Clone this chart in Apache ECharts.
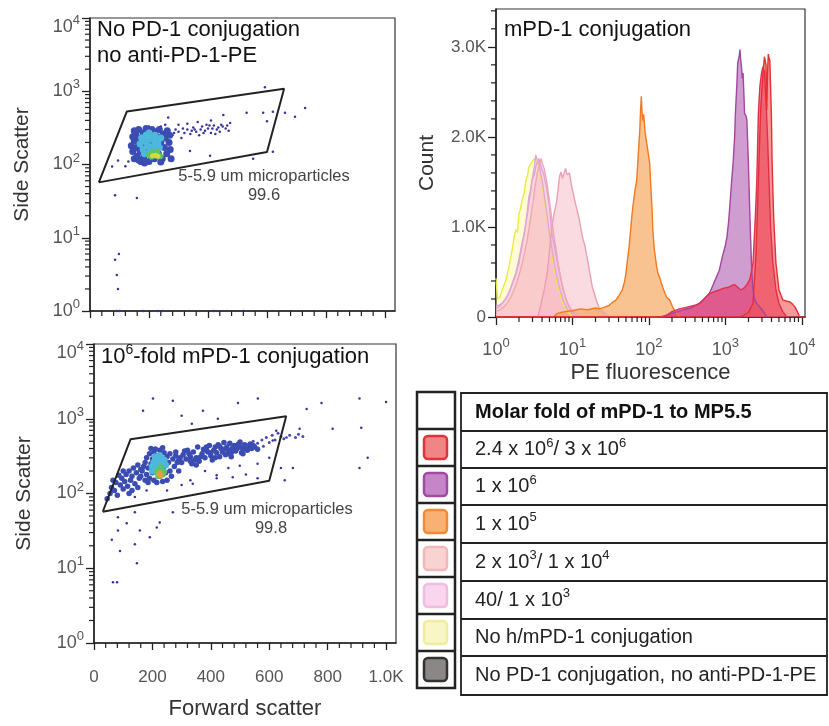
<!DOCTYPE html>
<html>
<head>
<meta charset="utf-8">
<script src="https://cdn.jsdelivr.net/npm/echarts@6/dist/echarts.min.js"></script>
<style>
  html, body { margin: 0; padding: 0; background: #fff; }
  #chart { width: 829px; height: 726px; }
</style>
</head>
<body>
<div id="chart"></div>
<script>
const FONT = '"Liberation Sans", Arial, sans-serif'

// ---- ticks ----
const fscTicks = [0, 200, 400, 600, 800, 1000]
const fscMinor = [40, 80, 120, 160, 240, 280, 320, 360, 440, 480, 520, 560, 640, 680, 720, 760, 840, 880, 920, 960]
const decadeTicks = [0, 1, 2, 3, 4]
const countTicks = [0, 1000, 2000, 3000]
const countMinor = [200, 400, 600, 800, 1200, 1400, 1600, 1800, 2200, 2400, 2600, 2800, 3200, 3400]
const logMinor = []
for (let n = 0; n < 4; n++) {
  for (let k = 2; k <= 9; k++) logMinor.push(n + Math.log10(k))
}

// ---- gate (forward scatter, side scatter) ----
const gate = [[30, 57], [125, 530], [658, 1080], [600, 148], [30, 57]]

// ---- panel A: no PD-1 conjugation (forward scatter, side scatter) ----
const aSparse = [[265, 437], [280, 250], [290, 300], [300, 280], [310, 230], [320, 270], [330, 300], [340, 260],
  [350, 320], [355, 300], [360, 280], [370, 250], [380, 330], [390, 290], [395, 350], [400, 310], [410, 270],
  [420, 340], [425, 260], [430, 300], [440, 280], [445, 350], [450, 330], [460, 310], [470, 290], [475, 370],
  [300, 350], [330, 360], [365, 380], [410, 400], [452, 475], [531, 510], [587, 510], [600, 390], [620, 525],
  [661, 510], [695, 450], [729, 590], [593, 1130], [339, 153], [407, 132], [553, 120], [620, 149], [75, 94],
  [95, 113], [85, 38], [159, 35], [85, 5], [98, 6], [91, 3.1], [95, 2], [90, 1], [100, 1], [180, 1], [230, 1],
  [245, 1], [420, 1], [520, 1], [200, 330], [130, 110], [120, 95], [255, 350], [240, 330], [285, 270],
  [315, 310], [345, 290], [375, 300], [405, 340], [435, 320], [465, 340], [385, 270], [415, 310]]
const aBlue = [[140, 180], [145, 150], [150, 210], [150, 120], [155, 260], [158, 170], [160, 130], [165, 230],
  [165, 300], [170, 150], [172, 110], [175, 200], [180, 270], [182, 125], [185, 170], [190, 310], [190, 230],
  [195, 140], [198, 190], [200, 110], [205, 260], [208, 160], [210, 300], [215, 210], [218, 120], [220, 280],
  [225, 180], [228, 240], [232, 140], [235, 300], [240, 200], [245, 120], [248, 260], [252, 170], [255, 230],
  [260, 140], [262, 290], [268, 200], [272, 160], [145, 240], [150, 290], [165, 115], [185, 105], [240, 108],
  [270, 250], [275, 120]]
const aCyan = [[170, 190], [175, 230], [180, 160], [185, 210], [190, 250], [195, 180], [200, 220], [205, 150],
  [210, 240], [215, 180], [220, 210], [225, 155], [230, 200], [235, 170], [240, 230], [200, 270], [220, 250], [185, 140]]
const aGreen = [[200, 135], [208, 128], [215, 140], [222, 132], [230, 138], [238, 130], [212, 148], [226, 150]]
const aYellow = [[212, 132], [222, 134], [230, 130]]

// ---- panel B: 10^6-fold mPD-1 conjugation ----
const bSparse = [[202, 1860], [270, 1740], [373, 1280], [335, 860], [300, 1100], [168, 1280], [424, 1000],
  [493, 1620], [561, 1860], [728, 1350], [779, 1620], [909, 1860], [1000, 1680], [817, 735], [915, 760],
  [937, 300], [909, 220], [704, 735], [681, 220], [653, 150], [499, 235], [420, 175], [475, 165], [338, 135],
  [624, 690], [612, 510], [659, 560], [82, 48], [112, 40], [82, 32], [140, 56], [61, 24], [89, 17], [140, 21],
  [191, 26], [225, 41], [157, 32], [65, 6.5], [79, 6.5], [147, 11.7], [270, 56], [215, 35], [330, 150],
  [380, 200], [420, 160], [460, 220], [520, 180], [560, 250], [600, 300], [250, 110], [300, 130], [180, 110],
  [140, 90], [560, 160], [640, 220]]
const bBlue = [[165, 200], [170, 230], [175, 260], [180, 180], [180, 300], [185, 220], [190, 160], [190, 340],
  [195, 250], [200, 190], [200, 290], [205, 150], [205, 360], [210, 230], [215, 320], [215, 140], [220, 270],
  [225, 380], [225, 170], [230, 300], [235, 145], [240, 350], [240, 230], [245, 190], [250, 310], [250, 150],
  [255, 260], [260, 340], [260, 200], [265, 170], [270, 290], [275, 230], [280, 320], [285, 260], [290, 200],
  [295, 300], [185, 140], [175, 150], [160, 170], [195, 400], [235, 410], [210, 395],
  [45, 85], [55, 100], [60, 120], [70, 110], [75, 140], [80, 95], [90, 130], [95, 160], [100, 115], [105, 145],
  [110, 180], [115, 125], [120, 200], [125, 150], [130, 170], [135, 220], [140, 135], [145, 190], [150, 240],
  [155, 160], [160, 210], [130, 110], [85, 175], [100, 200], [65, 150], [150, 120], [120, 100],
  [300, 260], [305, 330], [315, 290], [320, 380], [330, 310], [335, 250], [340, 360], [350, 300], [355, 420],
  [360, 270], [370, 340], [375, 390], [380, 300], [390, 360], [395, 440], [400, 320], [405, 280], [410, 380],
  [420, 350], [425, 450], [430, 310], [435, 400], [440, 360], [450, 330], [455, 420], [460, 380], [465, 470],
  [470, 350], [475, 410], [480, 440], [485, 370], [490, 400], [495, 460], [500, 420], [505, 350], [510, 390],
  [515, 450], [520, 410], [525, 380], [530, 430], [540, 400], [550, 420], [560, 390], [445, 480], [385, 420],
  [350, 240], [310, 370], [415, 300], [470, 310], [535, 460], [500, 490], [460, 340], [430, 430], [545, 440],
  [510, 340], [325, 340], [345, 280], [365, 310], [385, 380], [400, 350], [415, 420], [445, 390], [470, 380],
  [490, 430], [520, 440], [330, 270], [290, 280], [280, 360]]
const bEdge = [[590, 560], [610, 600], [620, 520], [630, 640], [640, 580], [650, 540], [670, 600], [690, 560],
  [700, 620], [715, 580], [600, 480], [575, 520], [560, 470], [580, 430], [545, 500]]
const bCyan = [[200, 230], [205, 260], [210, 280], [215, 250], [220, 300], [225, 230], [230, 270], [235, 250],
  [210, 310], [225, 320], [240, 280], [215, 220], [245, 240], [200, 200], [230, 210]]
const bGreen = [[215, 190], [220, 210], [225, 185], [230, 200], [235, 180], [240, 195], [220, 170], [228, 225]]
const bYellow = [[222, 178], [230, 172], [226, 190]]

// ---- histograms: [log10 PE fluorescence, count] ----
const peNone = [[0.0, 430], [0.02, 200], [0.05, 220], [0.08, 300], [0.13, 410], [0.17, 560], [0.21, 740],
  [0.24, 900], [0.26, 970], [0.28, 940], [0.30, 1150], [0.32, 1200], [0.34, 1300], [0.37, 1380], [0.39, 1520],
  [0.41, 1560], [0.43, 1670], [0.45, 1650], [0.47, 1720], [0.50, 1760], [0.55, 1700], [0.60, 1500],
  [0.65, 1200], [0.70, 900], [0.75, 600], [0.80, 380], [0.85, 220], [0.90, 110], [0.95, 50], [1.0, 0]]
const pe40 = [[0.0, 120], [0.04, 130], [0.08, 155], [0.13, 200], [0.17, 270], [0.21, 370], [0.26, 490],
  [0.30, 640], [0.34, 820], [0.37, 930], [0.39, 1040], [0.41, 1180], [0.43, 1330], [0.45, 1400], [0.47, 1520],
  [0.50, 1580], [0.52, 1670], [0.54, 1720], [0.56, 1760], [0.58, 1690], [0.60, 1710], [0.62, 1600],
  [0.64, 1520], [0.66, 1440], [0.68, 1330], [0.70, 1220], [0.73, 930], [0.76, 800], [0.79, 670], [0.83, 490],
  [0.87, 330], [0.92, 190], [0.96, 110], [1.02, 50], [1.09, 0]]
const pe1e3 = [[0.0, 90], [0.05, 120], [0.1, 170], [0.15, 240], [0.2, 330], [0.25, 450], [0.3, 600],
  [0.34, 780], [0.38, 980], [0.42, 1200], [0.45, 1380], [0.48, 1560], [0.5, 1660], [0.52, 1800], [0.54, 1740],
  [0.56, 1700], [0.58, 1620], [0.61, 1480], [0.64, 1300], [0.67, 1120], [0.7, 920], [0.73, 760], [0.76, 600],
  [0.8, 430], [0.84, 290], [0.88, 180], [0.93, 90], [0.98, 40], [1.04, 0]]
const pe2e3 = [[0.0, 60], [0.05, 80], [0.1, 110], [0.15, 160], [0.2, 230], [0.25, 330], [0.3, 460],
  [0.35, 620], [0.4, 820], [0.44, 1030], [0.48, 1260], [0.51, 1450], [0.54, 1600], [0.57, 1700], [0.59, 1760],
  [0.61, 1690], [0.63, 1650], [0.66, 1520], [0.69, 1350], [0.72, 1150], [0.75, 950], [0.78, 780], [0.81, 600],
  [0.85, 420], [0.89, 270], [0.93, 160], [0.97, 90], [1.02, 40], [1.08, 0]]
const pe1e4 = [[0.55, 0], [0.59, 150], [0.63, 300], [0.67, 490], [0.70, 740], [0.73, 1000], [0.76, 1150],
  [0.79, 1270], [0.81, 1400], [0.83, 1560], [0.85, 1610], [0.87, 1540], [0.89, 1560], [0.91, 1650],
  [0.93, 1580], [0.96, 1600], [0.98, 1500], [1.0, 1410], [1.02, 1330], [1.05, 1220], [1.07, 1150],
  [1.09, 1080], [1.11, 980], [1.13, 890], [1.16, 800], [1.18, 710], [1.20, 620], [1.22, 520], [1.24, 430],
  [1.26, 330], [1.29, 250], [1.31, 190], [1.35, 100], [1.42, 40], [1.48, 0]]
const pe1e5 = [[0.75, 0], [0.8, 40], [0.9, 60], [1.0, 70], [1.1, 90], [1.2, 80], [1.3, 100], [1.35, 90],
  [1.42, 110], [1.48, 130], [1.52, 160], [1.57, 190], [1.61, 240], [1.65, 300], [1.68, 390], [1.70, 490],
  [1.72, 640], [1.74, 780], [1.76, 960], [1.78, 1150], [1.80, 1300], [1.82, 1420], [1.84, 1520], [1.86, 1800],
  [1.88, 2080], [1.89, 2300], [1.90, 2450], [1.91, 2260], [1.92, 2180], [1.93, 2250], [1.94, 2150],
  [1.95, 2050], [1.97, 1930], [1.98, 1880], [2.00, 1860], [2.01, 1700], [2.02, 1520], [2.04, 1200],
  [2.05, 970], [2.07, 750], [2.10, 560], [2.12, 480], [2.14, 440], [2.16, 380], [2.18, 330], [2.21, 260],
  [2.23, 220], [2.27, 190], [2.31, 110], [2.36, 40], [2.40, 0]]
const pe1e6 = [[2.15, 0], [2.3, 40], [2.45, 80], [2.55, 100], [2.66, 150], [2.72, 200], [2.79, 260],
  [2.85, 380], [2.92, 520], [2.96, 670], [3.00, 800], [3.02, 890], [3.04, 1050], [3.06, 1260], [3.08, 1500],
  [3.10, 1710], [3.12, 2000], [3.13, 2260], [3.15, 2600], [3.16, 2820], [3.18, 2900], [3.19, 2970],
  [3.20, 2850], [3.21, 2780], [3.22, 2650], [3.23, 2710], [3.24, 2500], [3.25, 2260], [3.27, 2230],
  [3.28, 2190], [3.29, 1950], [3.30, 1710], [3.31, 1400], [3.32, 1110], [3.33, 850], [3.34, 600],
  [3.35, 420], [3.36, 300], [3.38, 200], [3.41, 150], [3.48, 80], [3.54, 0]]
const pe24e6 = [[0.0, 0], [2.2, 0], [2.3, 60], [2.4, 90], [2.5, 110], [2.6, 130], [2.66, 150], [2.72, 200],
  [2.79, 260], [2.85, 280], [2.92, 300], [2.98, 320], [3.04, 330], [3.08, 350], [3.12, 360], [3.16, 330],
  [3.20, 300], [3.24, 320], [3.28, 360], [3.32, 420], [3.36, 600], [3.39, 1100], [3.41, 1520], [3.43, 2260],
  [3.45, 2560], [3.47, 2700], [3.49, 2780], [3.51, 2720], [3.53, 2400], [3.55, 2000], [3.57, 1500],
  [3.59, 1000], [3.62, 600], [3.66, 300], [3.70, 150], [3.75, 60], [3.8, 0]]
const pe3e6 = [[0.0, 0], [3.2, 0], [3.3, 50], [3.36, 150], [3.40, 700], [3.43, 1500], [3.46, 2300],
  [3.49, 2700], [3.51, 2890], [3.53, 2800], [3.54, 2300], [3.55, 2700], [3.56, 2920], [3.57, 2880],
  [3.58, 2850], [3.60, 2260], [3.61, 1710], [3.63, 1110], [3.66, 600], [3.70, 300], [3.75, 190], [3.80, 175],
  [3.84, 170], [3.88, 140], [3.91, 110], [3.94, 60], [3.97, 0], [4.04, 0]]

// ---- legend table ----
const legendHeader = 'Molar fold of mPD-1 to MP5.5'
const legendRows = ['2.4 x 10^6/ 3 x 10^6', '1 x 10^6', '1 x 10^5', '2 x 10^3/ 1 x 10^4', '40/ 1 x 10^3',
  'No h/mPD-1 conjugation', 'No PD-1 conjugation, no anti-PD-1-PE']
const legendFill = ['#f08585', '#c685c8', '#f8b172', '#f9d3d3', '#f9d6ee', '#f7f6c4', '#8a8786']
const legendStroke = ['#e0343a', '#a04aa2', '#f08a36', '#f2b8b8', '#efbde2', '#efec9e', '#333333']

const toLog = pts => pts.map(p => [p[0], Math.log10(p[1])])
const sup = s => s.replace(/\^(\d)/g, '{s|$1}')

const chart = echarts.init(document.getElementById('chart'))

const dark = '#222'
const tickLabel = { color: '#555', fontFamily: FONT }
const decadeRich = {
  b: { fontSize: 18, lineHeight: 26, color: '#555', fontFamily: FONT },
  s: { fontSize: 13, lineHeight: 14, verticalAlign: 'top', color: '#555', fontFamily: FONT },
  g: { fontSize: 10, lineHeight: 18 }
}
const decadeFmt = v => '{b|10}{s|' + Math.round(v) + '}'
// top decade label sits a little below its tick in the original
const decadeFmtTop = v => (Math.round(v) === 4 ? '{g| }\n' : '') + decadeFmt(v)

function fscAxis(grid, labels, name) {
  return {
    gridIndex: grid, type: 'value', min: 0, max: 1034,
    axisLine: { show: true, onZero: false, lineStyle: { color: dark, width: 1.5 } },
    axisTick: { show: true, length: 7, customValues: fscTicks, lineStyle: { color: dark, width: 1.3 } },
    axisLabel: {
      show: labels, customValues: fscTicks, margin: 26, fontSize: 17, ...tickLabel,
      formatter: v => v === 0 ? '0' : v === 1000 ? '1.0K' : String(v)
    },
    splitLine: { show: false },
    name: name, nameLocation: 'middle', nameGap: 55,
    nameTextStyle: { fontSize: 22, color: '#333', fontFamily: FONT }
  }
}
function sscAxis(grid, gap) {
  return {
    gridIndex: grid, type: 'value', min: 0, max: 4, interval: 1, position: 'left',
    axisLine: { show: true, onZero: false, lineStyle: { color: dark, width: 1.5 } },
    axisTick: { show: true, length: 8, lineStyle: { color: dark, width: 1.3 } },
    axisLabel: { margin: 10, formatter: decadeFmtTop, rich: decadeRich },
    splitLine: { show: false },
    name: 'Side Scatter', nameLocation: 'middle', nameGap: gap,
    nameTextStyle: { fontSize: 21, color: '#333', fontFamily: FONT }
  }
}
// short minor ticks drawn through the axis scales (outside the plot box)
function minorTicks(xi, yi, values, dim, base, len) {
  return {
    type: 'custom', xAxisIndex: xi, yAxisIndex: yi, clip: false, silent: true, z: 10,
    data: values.map(v => dim === 'x' ? [v, base] : [base, v]),
    renderItem: (params, api) => {
      const p = api.coord([api.value(0), api.value(1)])
      const shape = dim === 'x'
        ? { x1: p[0], y1: p[1], x2: p[0], y2: p[1] + len }
        : { x1: p[0], y1: p[1], x2: p[0] - len, y2: p[1] }
      return { type: 'line', shape: shape, style: { stroke: '#222', lineWidth: 1.2 } }
    }
  }
}
function dots(data, xi, yi, color, size) {
  return {
    type: 'scatter', xAxisIndex: xi, yAxisIndex: yi, data: toLog(data), symbol: 'circle',
    symbolSize: size, itemStyle: { color: color, opacity: 1 }, silent: true
  }
}
function gateLine(xi, yi) {
  return {
    type: 'line', xAxisIndex: xi, yAxisIndex: yi, data: toLog(gate), symbol: 'none',
    lineStyle: { color: dark, width: 2 }, z: 5, silent: true
  }
}
function hist(data, line, fill) {
  return {
    type: 'line', xAxisIndex: 2, yAxisIndex: 2, data: data, symbol: 'none',
    lineStyle: { color: line, width: 1.4 }, areaStyle: { color: fill, opacity: 1 }, silent: true
  }
}

const gridBox = { show: true, borderColor: '#333', borderWidth: 1.2, backgroundColor: 'transparent' }

// table graphics
const tableEls = []
const leftRowsY = [392, 429, 466, 503, 540, 577, 614, 651, 688]
const rightRowsY = [393, 431, 468, 505, 543, 581, 619, 656, 695]
tableEls.push({ type: 'rect', shape: { x: 417, y: 392, width: 38, height: 296 }, style: { fill: '#fff', stroke: dark, lineWidth: 2.5 } })
tableEls.push({ type: 'rect', shape: { x: 461, y: 393, width: 366, height: 302 }, style: { fill: '#fff', stroke: dark, lineWidth: 1.8 } })
for (let i = 1; i < 8; i++) {
  tableEls.push({ type: 'line', shape: { x1: 417, y1: leftRowsY[i], x2: 455, y2: leftRowsY[i] }, style: { stroke: dark, lineWidth: 2.5 } })
  tableEls.push({ type: 'line', shape: { x1: 461, y1: rightRowsY[i], x2: 827, y2: rightRowsY[i] }, style: { stroke: dark, lineWidth: 1.8 } })
}
const tableRich = { s: { fontSize: 13, lineHeight: 14, verticalAlign: 'top', fill: '#222', fontFamily: FONT } }
tableEls.push({
  type: 'text', style: { text: legendHeader, x: 475, y: (rightRowsY[0] + rightRowsY[1]) / 2, fill: '#111',
    fontSize: 20, fontWeight: 'bold', fontFamily: FONT, textVerticalAlign: 'middle' }
})
legendRows.forEach((t, i) => {
  const top = leftRowsY[i + 1]
  tableEls.push({ type: 'rect', shape: { x: 424, y: top + 7, width: 23, height: 23, r: 4 },
    style: { fill: legendFill[i], stroke: legendStroke[i], lineWidth: 2.5 } })
  tableEls.push({
    type: 'text', style: { text: sup(t), x: 475, y: (rightRowsY[i + 1] + rightRowsY[i + 2]) / 2, fill: '#222',
      fontSize: 20, lineHeight: 26, fontFamily: FONT, textVerticalAlign: 'middle', rich: tableRich }
  })
})

const titleRich = { s: { fontSize: 14, lineHeight: 16, verticalAlign: 'top', fill: '#111', fontFamily: FONT } }
const texts = [
  { type: 'text', style: { text: 'No PD-1 conjugation', x: 97, y: 30, fontSize: 22, fill: '#111', fontFamily: FONT, textVerticalAlign: 'middle' } },
  { type: 'text', style: { text: 'no anti-PD-1-PE', x: 97, y: 56, fontSize: 22, fill: '#111', fontFamily: FONT, textVerticalAlign: 'middle' } },
  { type: 'text', style: { text: sup('10^6-fold mPD-1 conjugation'), x: 101, y: 357, fontSize: 22, lineHeight: 28, fill: '#111', fontFamily: FONT, textVerticalAlign: 'middle', rich: titleRich } },
  { type: 'text', style: { text: 'mPD-1 conjugation', x: 504, y: 30, fontSize: 22, fill: '#111', fontFamily: FONT, textVerticalAlign: 'middle' } },
  { type: 'text', style: { text: '5-5.9 um microparticles', x: 264, y: 176, fontSize: 16.5, fill: '#444', fontFamily: FONT, textAlign: 'center', textVerticalAlign: 'middle' } },
  { type: 'text', style: { text: '99.6', x: 264, y: 195, fontSize: 16.5, fill: '#444', fontFamily: FONT, textAlign: 'center', textVerticalAlign: 'middle' } },
  { type: 'text', style: { text: '5-5.9 um microparticles', x: 267, y: 509, fontSize: 16.5, fill: '#444', fontFamily: FONT, textAlign: 'center', textVerticalAlign: 'middle' } },
  { type: 'text', style: { text: '99.8', x: 271, y: 528, fontSize: 16.5, fill: '#444', fontFamily: FONT, textAlign: 'center', textVerticalAlign: 'middle' } }
]

chart.setOption({
  animation: false,
  backgroundColor: '#fff',
  textStyle: { fontFamily: FONT },
  grid: [
    { left: 90, top: 12, width: 305, height: 299, ...gridBox },
    { left: 94, top: 344, width: 302, height: 299, ...gridBox },
    { left: 496, top: 9, width: 309, height: 308, ...gridBox }
  ],
  xAxis: [
    fscAxis(0, false, ''),
    fscAxis(1, true, 'Forward scatter'),
    {
      gridIndex: 2, type: 'value', min: 0, max: 4.04, position: 'bottom',
      axisLine: { show: true, onZero: false, lineStyle: { color: dark, width: 1.5 } },
      axisTick: { show: true, length: 8, customValues: decadeTicks, lineStyle: { color: dark, width: 1.3 } },
      axisLabel: { customValues: decadeTicks, margin: 20, formatter: decadeFmt, rich: decadeRich },
      splitLine: { show: false },
      name: 'PE fluorescence', nameLocation: 'middle', nameGap: 45,
      nameTextStyle: { fontSize: 22, color: '#333', fontFamily: FONT }
    }
  ],
  yAxis: [
    sscAxis(0, 57),
    sscAxis(1, 59),
    {
      gridIndex: 2, type: 'value', min: 0, max: 3420, position: 'left',
      axisLine: { show: true, onZero: false, lineStyle: { color: dark, width: 1.5 } },
      axisTick: { show: true, length: 8, customValues: countTicks, lineStyle: { color: dark, width: 1.3 } },
      axisLabel: {
        customValues: countTicks, margin: 10, fontSize: 17, ...tickLabel,
        formatter: v => v === 0 ? '0' : (v / 1000).toFixed(1) + 'K'
      },
      splitLine: { show: false },
      name: 'Count', nameLocation: 'middle', nameGap: 58,
      nameTextStyle: { fontSize: 21, color: '#333', fontFamily: FONT }
    }
  ],
  series: [
    minorTicks(0, 0, fscMinor, 'x', 0, 5),
    minorTicks(0, 0, logMinor, 'y', 0, 5),
    minorTicks(1, 1, fscMinor, 'x', 0, 5),
    minorTicks(1, 1, logMinor, 'y', 0, 5),
    minorTicks(2, 2, logMinor, 'x', 0, 5),
    minorTicks(2, 2, countMinor, 'y', 0, 5),
    gateLine(0, 0),
    dots(aSparse, 0, 0, '#34349a', 2.5),
    dots(aBlue, 0, 0, '#3b4cb2', 7),
    dots(aCyan, 0, 0, '#4db8dc', 7),
    dots(aGreen, 0, 0, '#5fc266', 6),
    dots(aYellow, 0, 0, '#d6dc3c', 5),
    gateLine(1, 1),
    dots(bSparse, 1, 1, '#34349a', 2.5),
    dots(bEdge, 1, 1, '#4a4ab0', 3),
    dots(bBlue, 1, 1, '#3b4cb2', 5.5),
    dots(bCyan, 1, 1, '#4db8dc', 7),
    dots(bGreen, 1, 1, '#5fc266', 6),
    dots(bYellow, 1, 1, '#e0a040', 5),
    hist(peNone, '#eceb45', 'rgba(250,248,160,0.45)'),
    hist(pe40, '#dfa2dc', 'rgba(248,196,222,0.4)'),
    hist(pe1e3, '#e2a6d8', 'rgba(248,192,210,0.35)'),
    hist(pe2e3, '#f0a8b0', 'rgba(246,180,184,0.35)'),
    hist(pe1e4, '#eb9fb4', 'rgba(246,184,196,0.5)'),
    hist(pe1e5, '#ef7a22', 'rgba(246,158,78,0.62)'),
    hist(pe1e6, '#a2469f', 'rgba(172,86,172,0.58)'),
    hist(pe24e6, '#e0304e', 'rgba(232,50,100,0.62)'),
    hist(pe3e6, '#e52f30', 'rgba(240,80,80,0.58)')
  ],
  graphic: { elements: texts.concat(tableEls) }
})
</script>
</body>
</html>
